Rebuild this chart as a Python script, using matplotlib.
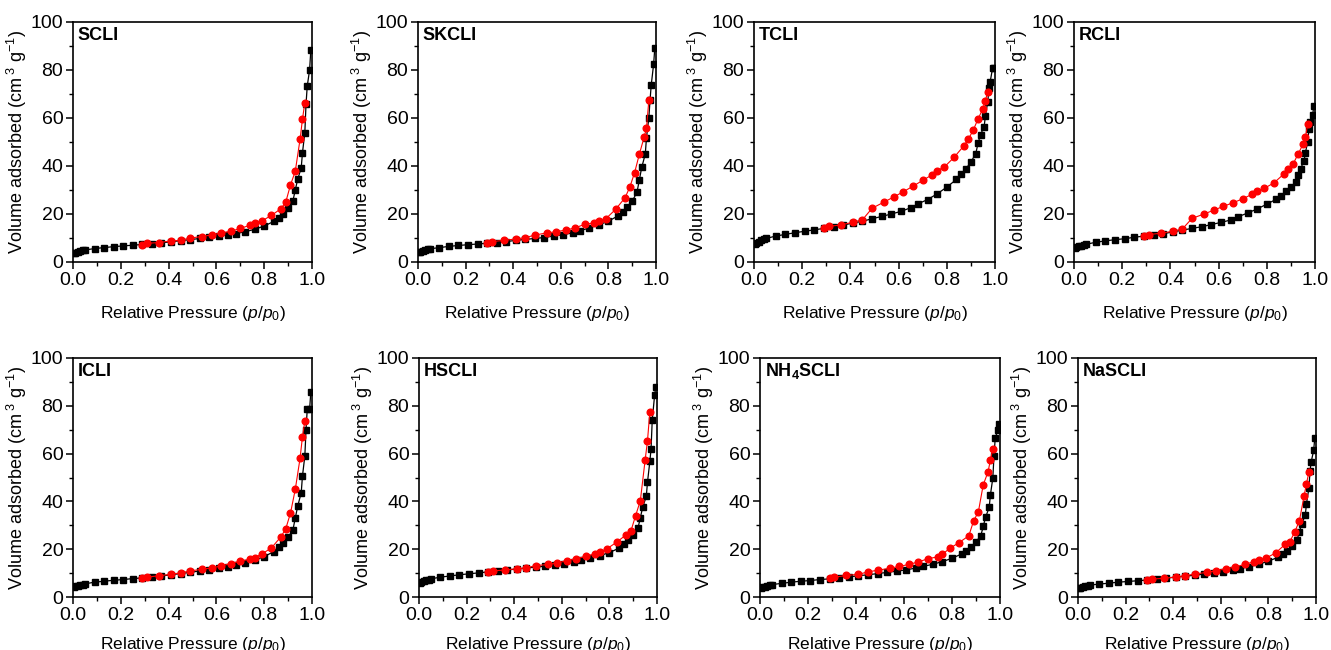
import matplotlib
matplotlib.use("Agg")
import matplotlib.pyplot as plt
from matplotlib.ticker import MultipleLocator

plt.rcParams['font.family'] = ['Liberation Sans', 'DejaVu Sans']
plt.rcParams['mathtext.fontset'] = 'custom'
plt.rcParams['mathtext.rm'] = 'Liberation Sans'
plt.rcParams['mathtext.it'] = 'Liberation Sans:italic'
plt.rcParams['mathtext.bf'] = 'Liberation Sans:bold'

TICK_SIZE = 14
LABEL_SIZE = 12.5
YLABEL_SIZE = 13
NAME_SIZE = 13

# relative pressures, adsorption branch (black) and desorption branch (red)
P_ADS = [0.005, 0.01, 0.02, 0.03, 0.04, 0.05, 0.09, 0.13, 0.17, 0.21, 0.25, 0.29, 0.33,
         0.37, 0.41, 0.45, 0.49, 0.53, 0.57, 0.61, 0.65, 0.68, 0.72, 0.76, 0.80, 0.84,
         0.86, 0.88, 0.90, 0.92, 0.93, 0.94, 0.955, 0.96, 0.97, 0.975, 0.98, 0.99, 0.995]
P_DES = [0.97, 0.96, 0.95, 0.93, 0.91, 0.89, 0.87, 0.83, 0.79, 0.76, 0.74, 0.70, 0.66,
         0.62, 0.58, 0.54, 0.49, 0.45, 0.41, 0.36, 0.31, 0.29]

SCLI_ADS = [3.6, 3.9, 4.3, 4.6, 4.9, 5.0, 5.6, 6.0, 6.4, 6.7, 7.0, 7.3, 7.6, 8.0, 8.4, 8.9,
            9.3, 9.8, 10.3, 10.8, 11.3, 11.8, 12.6, 13.6, 15.0, 16.9, 18.5, 20.1, 22.6,
            25.4, 30.0, 34.4, 39.3, 45.4, 53.9, 65.8, 73.2, 80.1, 88.2]
SCLI_DES = [66.4, 59.4, 51.1, 37.8, 32.1, 24.9, 22.2, 19.4, 17.1, 16.4, 15.3, 14.0, 12.8,
            12.1, 11.3, 10.6, 10.0, 9.0, 8.8, 8.1, 7.8, 7.2]

SKCLI_ADS = [4.0, 4.3, 4.7, 5.0, 5.3, 5.5, 6.0, 6.5, 6.9, 7.2, 7.5, 7.8, 8.1, 8.5, 9.0, 9.4,
             9.8, 10.2, 10.8, 11.4, 12.1, 13.0, 14.2, 15.5, 17.0, 19.2, 20.8, 22.8, 25.4,
             29.0, 34.2, 39.4, 45.0, 51.8, 60.2, 67.5, 73.8, 82.4, 89.2]
SKCLI_DES = [67.4, 55.8, 52.0, 44.9, 37.2, 31.2, 26.8, 21.9, 18.1, 17.1, 16.3, 15.7, 14.2,
             13.3, 12.6, 12.1, 11.2, 10.1, 9.6, 9.0, 8.5, 8.0]

TCLI_ADS = [7.5, 7.9, 8.5, 9.0, 9.4, 9.8, 10.8, 11.5, 12.2, 12.8, 13.4, 14.0, 14.7, 15.4,
            16.2, 17.0, 18.0, 19.0, 20.0, 21.1, 22.6, 24.2, 26.0, 28.4, 31.2, 34.4, 36.7,
            38.9, 41.7, 45.1, 49.6, 53.1, 56.4, 60.8, 66.7, 72.4, 75.1, 80.8, 80.8]
TCLI_DES = [71.0, 67.2, 63.9, 59.7, 55.0, 51.3, 48.3, 43.6, 39.6, 38.1, 36.4, 34.0, 31.6,
            29.3, 27.1, 25.0, 22.4, 17.6, 16.6, 15.4, 14.9, 14.2]

RCLI_ADS = [5.9, 6.2, 6.5, 6.8, 7.1, 7.4, 8.2, 8.8, 9.3, 9.7, 10.3, 10.8, 11.3, 11.8, 12.5,
            13.3, 14.0, 14.7, 15.6, 16.5, 17.5, 18.8, 20.4, 22.1, 24.1, 26.2, 27.6, 29.4,
            31.1, 33.3, 36.3, 38.9, 42.2, 45.5, 50.1, 55.3, 58.5, 61.1, 65.0]
RCLI_DES = [57.6, 52.0, 49.0, 45.0, 41.0, 38.8, 36.6, 33.0, 30.7, 29.4, 28.3, 26.3, 24.7,
            23.2, 21.6, 20.0, 18.2, 13.8, 12.8, 12.0, 11.4, 10.9]

ICLI_ADS = [4.2, 4.4, 4.6, 4.9, 5.2, 5.5, 6.2, 6.6, 7.0, 7.3, 7.7, 8.0, 8.4, 8.8, 9.3, 9.8,
            10.3, 10.9, 11.4, 12.0, 12.7, 13.4, 14.3, 15.4, 16.9, 19.0, 20.8, 22.7, 25.0,
            28.0, 33.0, 37.9, 43.7, 50.5, 59.0, 69.8, 78.5, 78.5, 85.7]
ICLI_DES = [73.6, 67.0, 58.0, 45.0, 35.1, 28.5, 25.2, 20.5, 18.0, 16.5, 15.8, 15.0, 14.0,
            13.0, 12.2, 11.6, 10.9, 10.1, 9.5, 8.9, 8.3, 8.0]

HSCLI_ADS = [6.0, 6.3, 6.7, 7.0, 7.3, 7.6, 8.3, 8.8, 9.3, 9.7, 10.1, 10.5, 10.9, 11.3, 11.7,
             12.1, 12.5, 12.9, 13.4, 13.9, 14.5, 15.3, 16.2, 17.3, 18.6, 20.4, 22.0, 23.8,
             25.8, 28.8, 33.2, 37.6, 42.1, 48.0, 56.8, 61.9, 74.0, 84.5, 87.8]
HSCLI_DES = [77.6, 65.3, 57.2, 40.3, 34.0, 27.5, 26.0, 22.9, 20.2, 18.8, 18.1, 17.0, 16.0,
             15.2, 14.2, 13.6, 13.1, 12.2, 11.8, 11.3, 10.9, 10.6]

NH4SCLI_ADS = [3.8, 4.0, 4.3, 4.6, 4.9, 5.2, 5.7, 6.2, 6.6, 6.9, 7.3, 7.6, 8.0, 8.4, 8.9,
               9.3, 9.8, 10.3, 10.8, 11.4, 12.1, 12.8, 13.7, 14.8, 16.2, 18.0, 19.3, 21.0,
               23.1, 25.6, 29.5, 33.4, 37.5, 42.7, 49.7, 59.0, 66.4, 69.7, 72.4]
NH4SCLI_DES = [62.0, 57.3, 52.3, 46.9, 35.7, 31.8, 25.6, 22.8, 20.3, 17.9, 16.8, 16.0, 14.7,
               13.6, 12.8, 12.0, 11.2, 10.5, 9.5, 9.0, 8.3, 7.8]

NASCLI_ADS = [3.7, 3.9, 4.1, 4.4, 4.7, 5.0, 5.4, 5.8, 6.2, 6.5, 6.8, 7.1, 7.5, 7.9, 8.3,
              8.7, 9.1, 9.6, 10.1, 10.6, 11.2, 11.9, 12.7, 13.7, 15.0, 16.6, 17.8, 19.3,
              21.2, 23.7, 27.3, 30.6, 34.2, 39.1, 45.4, 52.9, 56.6, 61.3, 66.5]
NASCLI_DES = [52.2, 47.4, 42.3, 31.8, 27.1, 23.1, 22.0, 18.4, 16.3, 15.4, 14.8, 13.6, 12.6,
              11.8, 11.0, 10.3, 9.6, 8.9, 8.4, 7.8, 7.5, 7.1]

NAMES = ['SCLI', 'SKCLI', 'TCLI', 'RCLI', 'ICLI', 'HSCLI', r'NH$_\mathbf{4}$SCLI', 'NaSCLI']
ADS = [SCLI_ADS, SKCLI_ADS, TCLI_ADS, RCLI_ADS, ICLI_ADS, HSCLI_ADS, NH4SCLI_ADS, NASCLI_ADS]
DES = [SCLI_DES, SKCLI_DES, TCLI_DES, RCLI_DES, ICLI_DES, HSCLI_DES, NH4SCLI_DES, NASCLI_DES]

W, H = 1331, 650
fig = plt.figure(figsize=(W / 100, H / 100), dpi=100)

# axes boxes in pixels: left, top, right, bottom
boxes = [(73, 22, 312, 262), (418, 22, 656, 262), (754, 22, 995, 262), (1074, 22, 1315, 262),
         (73, 358, 312, 597), (419, 358, 657, 597), (760, 358, 1000, 597), (1078, 358, 1316, 597)]

for i, (l, t, r, b) in enumerate(boxes):
    ax = fig.add_axes([l / W, 1 - b / H, (r - l) / W, (b - t) / H])
    ax.plot(P_ADS, ADS[i], color='black', marker='s', markersize=4.4, linewidth=0.9)
    ax.plot(P_DES, DES[i], color='red', marker='o', markersize=4.8, linewidth=0.8)
    ax.set_xlim(0, 1.0)
    ax.set_ylim(0, 100)
    ax.xaxis.set_major_locator(MultipleLocator(0.2))
    ax.xaxis.set_minor_locator(MultipleLocator(0.1))
    ax.yaxis.set_major_locator(MultipleLocator(20))
    ax.yaxis.set_minor_locator(MultipleLocator(10))
    ax.xaxis.set_major_formatter(plt.FormatStrFormatter('%.1f'))
    ax.tick_params(which='major', direction='out', length=5, width=1.1, labelsize=TICK_SIZE, pad=2)
    ax.tick_params(which='minor', direction='out', length=3, width=1.0)
    for s in ax.spines.values():
        s.set_linewidth(1.2)
    ax.set_xlabel(r'Relative Pressure ($p$/$p_0$)', fontsize=LABEL_SIZE,
                  labelpad=11 if i < 4 else 8)
    ax.set_ylabel(r'Volume adsorbed (cm$^{\ 3}$ g$^{-1}$)', fontsize=YLABEL_SIZE, labelpad=1)
    ax.text(0.02, 0.945, NAMES[i], transform=ax.transAxes, fontsize=NAME_SIZE,
            fontweight='bold', va='center', ha='left')

fig.savefig('out.png', dpi=100)
